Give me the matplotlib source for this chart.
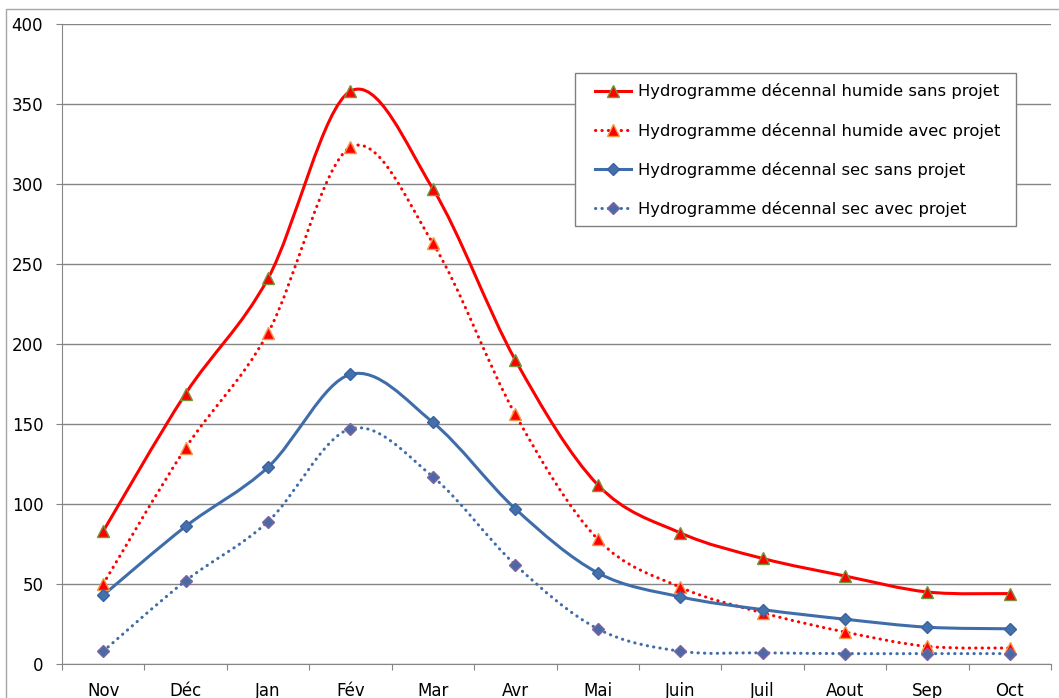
import matplotlib
matplotlib.use("Agg")
import matplotlib.pyplot as plt
import numpy as np
from matplotlib.path import Path
from matplotlib.patches import PathPatch, Rectangle
from matplotlib.lines import Line2D

# ==============================
# Données
# ==============================
mois = ["Nov", "Déc", "Jan", "Fév", "Mar", "Avr", "Mai", "Juin", "Juil", "Aout", "Sep", "Oct"]
humide_sans = [83, 169, 241, 358, 297, 190, 112, 82, 66, 55, 45, 44]
humide_avec = [50, 135, 207, 323, 263, 156, 78, 48, 32, 20, 11, 10]
sec_sans = [43, 86, 123, 181, 151, 97, 57, 42, 34, 28, 23, 22]
sec_avec = [8, 52, 89, 147, 117, 62, 22, 8, 7, 6.5, 6.5, 6.5]

ROUGE = "#FF0000"
BLEU = "#3F6DAA"
GRIS = "#868686"

plt.rcParams["font.family"] = ["DejaVu Sans"]


# ==============================
# Courbe lissée (Bézier façon Excel)
# ==============================
def smooth_path(x, y):
    pts = np.column_stack([x, y]).astype(float)
    n = len(pts)
    verts = [pts[0]]
    codes = [Path.MOVETO]
    for i in range(n - 1):
        p0, p3 = pts[i], pts[i + 1]
        prev = pts[i - 1] if i > 0 else pts[i]
        nxt = pts[i + 2] if i + 2 < n else pts[i + 1]
        c1 = p0 + (p3 - prev) / 6.0
        c2 = p3 - (nxt - p0) / 6.0
        verts += [c1, c2, p3]
        codes += [Path.CURVE4] * 3
    return Path(verts, codes)


def draw_series(ax, x, y, color, ls, marker, mfc, mec, ms, label):
    patch = PathPatch(smooth_path(x, y), facecolor="none", edgecolor=color,
                      linewidth=2.2, linestyle=ls, capstyle="round", zorder=3)
    ax.add_patch(patch)
    ax.plot(x, y, linestyle="none", marker=marker, markersize=ms,
            markerfacecolor=mfc, markeredgecolor=mec, markeredgewidth=1.0, zorder=4)
    return Line2D([], [], color=color, linewidth=2.2, linestyle=ls,
                  dash_capstyle="round", marker=marker, markersize=ms,
                  markerfacecolor=mfc, markeredgecolor=mec, label=label)


W, H = 1059, 698
fig = plt.figure(figsize=(W / 100, H / 100), dpi=100)
ax = fig.add_axes([62 / W, 1 - 664 / H, (1051 - 62) / W, (664 - 24) / H])

# cadre de la zone de graphique
fig.patches.append(Rectangle((6 / W, -0.1), 1.2, 1 - 9 / H + 0.1, transform=fig.transFigure,
                             fill=False, edgecolor="#A6A6A6", linewidth=1.0, zorder=0))

x = np.arange(len(mois)) + 0.5
dot = (0, (0.1, 2.0))
handles = [
    draw_series(ax, x, humide_sans, ROUGE, "-", "^", ROUGE, "#77933C", 8.5,
                "Hydrogramme décennal humide sans projet"),
    draw_series(ax, x, humide_avec, ROUGE, dot, "^", ROUGE, "#F79646", 8.5,
                "Hydrogramme décennal humide avec projet"),
    draw_series(ax, x, sec_sans, BLEU, "-", "D", "#4470AB", "#3A62A0", 6.5,
                "Hydrogramme décennal sec sans projet"),
    draw_series(ax, x, sec_avec, BLEU, dot, "D", "#4A6AA6", "#8064A2", 6.5,
                "Hydrogramme décennal sec avec projet"),
]

ax.set_xlim(0, len(mois))
ax.set_ylim(0, 400)
ax.set_yticks(np.arange(0, 401, 50))
ax.grid(axis="y", color=GRIS, linewidth=1.0)
ax.set_axisbelow(True)

ax.set_xticks(np.arange(0, len(mois) + 1))
ax.set_xticklabels([])
ax.set_xticks(x, minor=True)
ax.set_xticklabels(mois, minor=True)
ax.tick_params(axis="x", which="major", length=4.5, color=GRIS, direction="out")
ax.tick_params(axis="x", which="minor", length=0, pad=13, labelsize=12)
ax.tick_params(axis="y", length=4.5, color=GRIS, direction="out", labelsize=12, pad=9)

for s in ["top", "right"]:
    ax.spines[s].set_visible(False)
for s in ["left", "bottom"]:
    ax.spines[s].set_color(GRIS)

# légende : cadre blanc dessiné à part, puis la légende sans cadre par-dessus
ax.add_patch(Rectangle((575 / W, 1 - 226 / H), (1016 - 575) / W, (226 - 73) / H,
                       transform=fig.transFigure, facecolor="white",
                       edgecolor="#808080", linewidth=1.0, zorder=5, clip_on=False))
leg = ax.legend(handles=handles, loc="upper left",
                bbox_to_anchor=(588 / W, 1 - 76 / H), bbox_transform=fig.transFigure,
                fontsize=11.8, frameon=False,
                labelspacing=1.42, handlelength=2.2, handletextpad=0.4,
                borderpad=0.45, borderaxespad=0)
leg.set_zorder(10)

fig.savefig("out.png", dpi=100)
